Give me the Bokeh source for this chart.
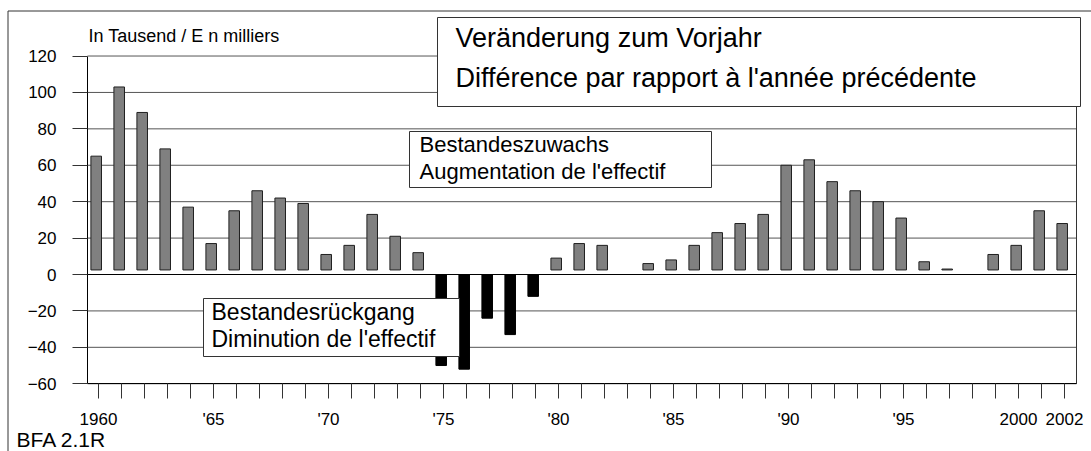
from bokeh.plotting import figure
from bokeh.models import (ColumnDataSource, FixedTicker, Range1d, Label,
                          BoxAnnotation, LinearAxis)
from bokeh.transform import dodge
from bokeh.embed import file_html
from bokeh.resources import INLINE

# ---------------- data ----------------
years = list(range(1960, 2003))
change = [65, 103, 89, 69, 37, 17, 35, 46, 42, 39,
          11, 16, 33, 21, 12, -50, -52, -24, -33, -12,
          9, 17, 16, 0, 6, 8, 16, 23, 28, 33,
          60, 63, 51, 46, 40, 31, 7, 3, 0, 11,
          16, 35, 28]
y_ticks = [-60, -40, -20, 0, 20, 40, 60, 80, 100, 120]
x_label_years = [1960, 1965, 1970, 1975, 1980, 1985, 1990, 1995, 2000, 2002]
x_label_texts = ["1960", "'65", "'70", "'75", "'80", "'85", "'90", "'95", "2000", "2002"]
unit_text = "In Tausend / E n milliers"
title_lines = ["Veränderung zum Vorjahr", "Différence par rapport à l'année précédente"]
up_lines = ["Bestandeszuwachs", "Augmentation de l'effectif"]
down_lines = ["Bestandesrückgang", "Diminution de l'effectif"]
code_text = "BFA 2.1R"

# ---------------- layout helpers (canvas pixels -> data) ----------------
W, H = 1091, 451
PX_PER_YEAR = 23.0
PX_PER_UNIT = 1.8206
X_REF_PX, Y_ZERO_PX = 98.0, 274.0


def dx(px):
    return 1960 + (px - X_REF_PX) / PX_PER_YEAR


def dy(py):
    return (Y_ZERO_PX - py) / PX_PER_UNIT


PL, PR = dx(87), dx(1076)          # plot-area left / right
YB, YT = y_ticks[0], y_ticks[-1]   # plot-area bottom / top

FONT = "Liberation Sans"

pos = ColumnDataSource(dict(year=[y for y, v in zip(years, change) if v > 0],
                            value=[v for v in change if v > 0]))
neg = ColumnDataSource(dict(year=[y for y, v in zip(years, change) if v < 0],
                            value=[v for v in change if v < 0]))
grid = ColumnDataSource(dict(y=y_ticks))

p = figure(width=W, height=H, x_range=Range1d(dx(0), dx(W)), y_range=Range1d(dy(H), dy(0)),
           output_backend="svg", toolbar_location=None,
           x_axis_type=None, y_axis_type=None, min_border=0)
p.background_fill_color = "white"
p.border_fill_color = "white"
p.outline_line_color = None

# grid lines
p.segment(x0=PL, x1=PR, y0="y", y1="y", source=grid, line_color="#555555", line_width=1)

# bars
p.vbar(x=dodge("year", -0.1), top="value", bottom=2.5, width=0.46, source=pos,
       fill_color="#808080", line_color="#202020", line_width=1)
p.vbar(x=dodge("year", -0.1), top="value", bottom=0, width=0.46, source=neg,
       fill_color="black", line_color="black", line_width=1)

# zero line and right frame line
p.segment(x0=PL, x1=PR, y0=0, y1=0, line_color="black", line_width=1)
p.segment(x0=PR, x1=PR, y0=YB, y1=YT, line_color="#333333", line_width=1)

# outer page border (top and left)
p.line(x=[dx(1200), dx(7.5), dx(7.5)], y=[dy(10.5), dy(10.5), dy(600)],
       line_color="#333333", line_width=1)

# axes
yax = LinearAxis(fixed_location=PL, bounds=(YB, YT), ticker=FixedTicker(ticks=y_ticks))
xax = LinearAxis(fixed_location=YB, bounds=(PL, PR), ticker=FixedTicker(ticks=years))
xax.major_label_overrides = {y: (x_label_texts[x_label_years.index(y)] if y in x_label_years else "")
                             for y in years}
for ax in (xax, yax):
    ax.major_tick_out = 15
    ax.major_tick_in = 0
    ax.minor_tick_out = 0
    ax.minor_tick_in = 0
    ax.axis_line_color = "black"
    ax.major_tick_line_color = "#333333"
    ax.major_label_text_font = FONT
    ax.major_label_text_font_size = "17px"
    ax.major_label_text_color = "black"
xax.major_label_standoff = 11
yax.major_label_standoff = 16
p.add_layout(yax, "left")
p.add_layout(xax, "below")

# boxes
for l, r, t, b in [(437, 1080, 17, 106), (409, 711, 131, 187), (203, 459, 298, 356)]:
    p.add_layout(BoxAnnotation(left=dx(l), right=dx(r), top=dy(t), bottom=dy(b),
                               fill_color="white", fill_alpha=1, line_color="#333333",
                               line_width=1, line_alpha=1))


def add_text(txt, px, py, size):
    p.add_layout(Label(x=dx(px), y=dy(py), text=txt, text_font=FONT,
                       text_font_size=size, text_color="black",
                       text_align="left", text_baseline="middle"))


add_text(unit_text, 88, 35, "18px")
add_text(title_lines[0], 455, 37, "27px")
add_text(title_lines[1], 455, 77, "27px")
add_text(up_lines[0], 419, 144, "22px")
add_text(up_lines[1], 419, 171, "22px")
add_text(down_lines[0], 211, 311, "23px")
add_text(down_lines[1], 211, 338, "23px")
add_text(code_text, 16, 439, "21px")

open("out.html", "w").write(file_html(p, INLINE))
